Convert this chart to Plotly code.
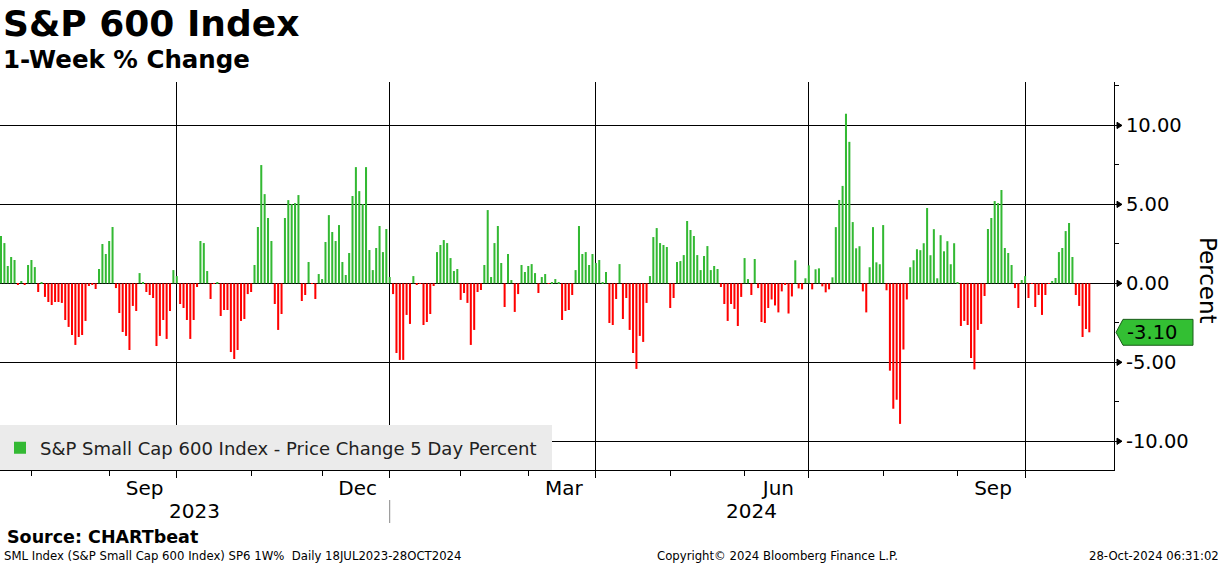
import pandas as pd
import plotly.graph_objects as go

# ---------------- data ----------------
holidays = ["2023-09-04", "2023-11-23", "2023-12-25", "2024-01-01", "2024-01-15",
            "2024-02-19", "2024-03-29", "2024-05-27", "2024-06-19", "2024-07-04",
            "2024-09-02"]
dates = [d for d in pd.bdate_range("2023-07-18", "2024-10-25")
         if d.strftime("%Y-%m-%d") not in holidays]

q3_2023 = [3.0, 2.55, 1.1, 1.67, 1.48, -0.05, 0.15, -0.08, 1.16, 1.48,
           1.03, -0.55, 0.08, -0.86, -1.18, -1.37, -1.18, -1.18, -1.24, -2.32,
           -2.76, -3.27, -3.90, -3.40, -3.27, -2.38, -0.17, -0.10, -0.36, 0.91,
           2.49, 1.86, 2.68, 3.57, -0.30, -1.88, -3.08, -3.33, -4.22, -1.43,
           -1.75, 0.65, 0.08, -0.55, -0.74, -0.93, -3.97, -3.33, -2.32, -3.52,
           -1.75, 0.84, 0.46]
q4_2023 = [-1.31, -1.56, -2.32, -3.52, -2.32, -0.23, 2.68, 2.55, 0.78, -0.99,
           -0.03, 0.03, -2.07, -1.69, -1.69, -4.35, -4.79, -4.22, -2.38, -2.26,
           -0.68, -0.55, 1.16, 3.57, 7.49, 5.65, 4.14, 2.68, -1.31, -2.95,
           -1.94, 4.14, 5.27, 5.02, 5.08, 5.59, -1.12, -0.74, 1.35, -0.03,
           -0.99, 0.59, 0.27, 2.62, 4.32, 3.25, 2.68, 3.69, 1.35, 0.53,
           1.92, 5.53, 7.36, 5.84, 5.02, 7.36, 2.11, 0.84, 2.24, 3.63,
           1.98, 3.44, 0.40]
q1_2024 = [-0.68, -4.41, -4.85, -4.85, -2.0, -2.57, 0.46, -0.10, -0.03, -2.64,
           -2.45, -1.94, -0.17, 1.98, 2.43, 2.74, 2.55, 1.60, 0.78, 0.91,
           -1.05, -0.61, -1.24, -3.90, -2.95, -0.55, -0.42, 1.16, 4.64, 0.40,
           2.55, 3.63, 1.29, -1.50, 1.86, 0.21, -1.81, -0.68, 1.16, 0.72,
           1.10, 1.22, 0.65, -0.61, 0.40, 0.59, -0.03, 0.08, 0.27, 0.08,
           -2.32, -1.75, -1.69, -0.74, 0.84, 3.63, 1.86, 1.98, 1.16, 1.86,
           1.29]
q2_2024 = [1.48, 0.03, 0.72, -2.51, -2.64, -0.99, 1.22, -2.26, -0.93, -2.95,
           -4.41, -5.42, -3.33, -3.71, -1.24, 0.46, 2.93, 3.50, 2.55, 2.43,
           2.30, -1.56, -0.93, 1.35, 1.41, 1.79, 3.95, 3.38, 3.00, 1.79,
           0.84, 1.73, 2.36, 0.84, 1.10, 0.91, -0.23, -1.31, -2.38, -1.31,
           -1.62, -2.70, -0.86, 1.60, 0.27, -0.74, 1.54, -0.30, -2.45, -2.51,
           -1.56, -1.02, -1.40, -1.84, -0.51, -0.05, -1.91, -0.83, 1.46, -0.32,
           -0.38, 0.32, 1.14]
q3_2024 = [-0.38, 0.89, 0.95, -0.19, -0.57, -0.38, 0.38, 3.56, 5.28, 6.17,
           10.74, 8.96, 3.88, 2.22, 2.35, -0.51, -1.84, 1.02, 3.56, 1.33,
           1.21, 3.69, -0.44, -5.53, -7.94, -7.37, -8.90, -4.19, -1.02, 1.02,
           1.46, 2.16, 2.10, 2.54, 4.77, 1.78, 3.43, 0.32, 3.05, 2.03,
           2.67, 1.21, 2.54, 0.06, -2.70, -2.38, -2.64, -4.73, -5.45, -2.95,
           -2.57, -0.80, 3.44, 4.14, 5.21, 5.08, 5.91, 2.24, 1.92, 1.16,
           -0.30, -1.56, 0.21, 0.46]
q4_2024 = [-0.93, -0.03, -1.50, -0.74, -2.0, -0.74, -0.03, 0.15, 0.34, 1.98,
           2.24, 3.31, 3.82, 1.67, -0.74, -1.43, -3.40, -2.89, -3.10]

pct_change = q3_2023 + q4_2023 + q1_2024 + q2_2024 + q3_2024 + q4_2024

month_labels = {"2023-09": "Sep", "2023-12": "Dec", "2024-03": "Mar",
                "2024-06": "Jun", "2024-09": "Sep"}
year_labels = ["2023", "2024"]
y_tick_values = [10, 5, 0, -5, -10]
y_tick_labels = ["10.00", "5.00", "0.00", "-5.00", "-10.00"]
series_name = "S&P Small Cap 600 Index - Price Change 5 Day Percent"
last_value = pct_change[-1]

# ---------------- derived positions ----------------
n = min(len(dates), len(pct_change))
dates = dates[:n]
pct_change = pct_change[:n]
idx = list(range(n))
x_min, x_max = -0.3, 329.3

month_keys = [d.strftime("%Y-%m") for d in dates]
month_end_idx = [i for i in range(n - 1) if month_keys[i] != month_keys[i + 1]]
quarter_end_idx = [i for i in month_end_idx if dates[i].month in (3, 6, 9, 12)]
month_center = {}
for m in month_labels:
    ks = [i for i in idx if month_keys[i] == m]
    month_center[m] = (ks[0] + ks[-1]) / 2
year_end_idx = [i for i in range(n - 1) if dates[i].year != dates[i + 1].year][0]

GREEN = "#33b933"
RED = "#ff0000"
colors = [GREEN if v >= 0 else RED for v in pct_change]

FONT = "DejaVu Sans"
PLOT_W, PLOT_H, TOP, LEFT = 1114, 388, 82, 0


def px_x(p):
    return (p - LEFT) / PLOT_W


def px_y(p):
    return (TOP + PLOT_H - p) / PLOT_H


fig = go.Figure()
fig.add_trace(go.Bar(
    x=idx, y=pct_change, width=0.6, marker=dict(color=colors, line=dict(width=0)),
    name=series_name, customdata=[d.strftime("%d %b %Y") for d in dates],
    hovertemplate="%{customdata}<br>%{y:.2f}%<extra></extra>", showlegend=True))
# helper trace for the quarter grid axis
fig.add_trace(go.Scatter(x=[x_min], y=[0], xaxis="x2", mode="markers",
                         marker=dict(opacity=0), showlegend=False, hoverinfo="skip"))

shapes = []
# legend background
shapes.append(dict(type="rect", xref="paper", yref="paper", x0=px_x(0), x1=px_x(552),
                   y0=px_y(470), y1=px_y(425), fillcolor="#ebebeb", line=dict(width=0),
                   layer="above"))
# arrow heads on major y ticks
for v in y_tick_values:
    shapes.append(dict(type="path", xref="paper", yref="y",
                       path=f"M {px_x(1117)},{v + 0.2} L {px_x(1122)},{v} L {px_x(1117)},{v - 0.2} Z",
                       fillcolor="black", line=dict(color="black", width=1)))
# last value tag
h = 0.82
shapes.append(dict(type="path", xref="paper", yref="y",
                   path=(f"M {px_x(1116)},{last_value} L {px_x(1123)},{last_value + h} "
                         f"L {px_x(1193)},{last_value + h} L {px_x(1193)},{last_value - h} "
                         f"L {px_x(1123)},{last_value - h} Z"),
                   fillcolor="#33bf33", line=dict(color="#1a5c1a", width=1)))
# year separator
shapes.append(dict(type="line", xref="x", yref="paper", x0=year_end_idx, x1=year_end_idx,
                   y0=px_y(500), y1=px_y(523), line=dict(color="#888888", width=1)))

annotations = [
    dict(text="<b>S&P 600 Index</b>", x=px_x(1), y=px_y(23), xref="paper", yref="paper",
         xanchor="left", yanchor="middle", showarrow=False,
         font=dict(family=FONT, size=36, color="black")),
    dict(text="<b>1-Week % Change</b>", x=px_x(1), y=px_y(60), xref="paper", yref="paper",
         xanchor="left", yanchor="middle", showarrow=False,
         font=dict(family=FONT, size=24.5, color="black")),
    dict(text="Percent", x=px_x(1208), y=px_y(280), xref="paper", yref="paper",
         xanchor="center", yanchor="middle", textangle=90, showarrow=False,
         font=dict(family=FONT, size=23, color="black")),
    dict(text=f"{last_value:.2f}", x=px_x(1152), y=last_value, xref="paper", yref="y",
         xanchor="center", yanchor="middle", showarrow=False,
         font=dict(family=FONT, size=19.5, color="black")),
    dict(text=year_labels[0], x=(x_min + year_end_idx) / 2, y=px_y(511), xref="x", yref="paper",
         xanchor="center", yanchor="middle", showarrow=False,
         font=dict(family=FONT, size=20, color="black")),
    dict(text=year_labels[1], x=(year_end_idx + x_max) / 2, y=px_y(511), xref="x", yref="paper",
         xanchor="center", yanchor="middle", showarrow=False,
         font=dict(family=FONT, size=20, color="black")),
    dict(text="<b>Source: CHARTbeat</b>", x=px_x(5), y=px_y(537), xref="paper", yref="paper",
         xanchor="left", yanchor="middle", showarrow=False,
         font=dict(family=FONT, size=17.5, color="black")),
    dict(text="SML Index (S&P Small Cap 600 Index) SP6 1W%  Daily 18JUL2023-28OCT2024",
         x=px_x(2), y=px_y(556), xref="paper", yref="paper", xanchor="left", yanchor="middle",
         showarrow=False, font=dict(family=FONT, size=11.7, color="black")),
    dict(text="Copyright© 2024 Bloomberg Finance L.P.", x=px_x(777), y=px_y(556),
         xref="paper", yref="paper", xanchor="center", yanchor="middle", showarrow=False,
         font=dict(family=FONT, size=11.7, color="black")),
    dict(text="28-Oct-2024 06:31:02", x=px_x(1221), y=px_y(556), xref="paper", yref="paper",
         xanchor="right", yanchor="middle", showarrow=False,
         font=dict(family=FONT, size=11.7, color="black")),
]

fig.update_layout(
    width=1224, height=566,
    margin=dict(l=LEFT, r=1224 - LEFT - PLOT_W, t=TOP, b=566 - TOP - PLOT_H, pad=0),
    paper_bgcolor="white", plot_bgcolor="white",
    bargap=0.4,
    shapes=shapes, annotations=annotations,
    showlegend=True,
    legend=dict(xref="paper", yref="paper", x=0, y=px_y(448), xanchor="left", yanchor="middle",
                bgcolor="rgba(0,0,0,0)", font=dict(family=FONT, size=18, color="#222222"),
                itemwidth=30),
    xaxis=dict(range=[x_min, x_max], showgrid=False, zeroline=False,
               showline=True, linecolor="black", linewidth=1,
               tickmode="array", tickvals=[month_center[m] for m in month_labels],
               ticktext=list(month_labels.values()), ticks="", ticklen=0,
               tickfont=dict(family=FONT, size=20, color="black"),
               minor=dict(tickmode="array", tickvals=month_end_idx, ticks="outside",
                          ticklen=5, tickcolor="black", tickwidth=1, showgrid=False)),
    xaxis2=dict(range=[x_min, x_max], overlaying="x", side="bottom", showline=False,
                tickmode="array", tickvals=quarter_end_idx, showticklabels=False,
                ticks="outside", ticklen=7, tickcolor="black",
                showgrid=True, gridcolor="black", gridwidth=1, zeroline=False),
    yaxis=dict(side="right", range=[-11.82, 12.75], tickmode="array",
               tickvals=y_tick_values, ticktext=y_tick_labels,
               showgrid=True, gridcolor="black", gridwidth=1,
               zeroline=True, zerolinecolor="black", zerolinewidth=1,
               showline=True, linecolor="black", linewidth=1,
               ticks="outside", ticklen=7, tickcolor="black",
               tickfont=dict(family=FONT, size=19.5, color="black"),
               minor=dict(tickmode="array", tickvals=[12.5, 7.5, 2.5, -2.5, -7.5],
                          ticks="outside", ticklen=4, tickcolor="black", showgrid=False)),
)

fig.write_html("out.html", config={"displayModeBar": False},
               post_script="document.body.style.margin='0';")
